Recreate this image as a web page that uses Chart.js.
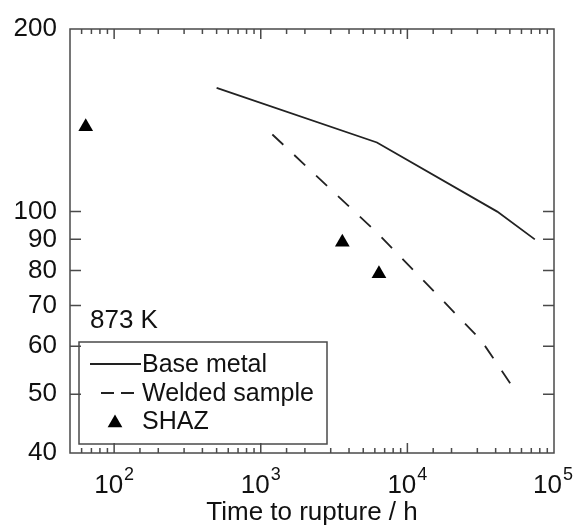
<!DOCTYPE html>
<html lang="en">
<head>
<meta charset="UTF-8">
<title>Time to rupture at 873 K</title>
<script src="https://cdn.jsdelivr.net/npm/chart.js@4"></script>
<style>
  body { margin: 0; background: #fff; }
  canvas { display: block; }
</style>
</head>
<body>
<canvas id="ruptureChart" width="575" height="526"></canvas>
<script>
// data (time in h, stress in MPa)
const seriesNames = ['Base metal', 'Welded sample', 'SHAZ'];
const baseTimes = [500, 6200, 41000, 74000];
const baseStress = [160, 130, 100, 90];
const weldTimes = [1200, 6300, 31800, 52000];
const weldStress = [134, 92, 61.4, 51.5];
const shazTimes = [64, 3600, 6400];
const shazStress = [138, 89, 79];
const yTickValues = [40, 50, 60, 70, 80, 90, 100, 200];
const tempLabel = '873 K';
const xTitle = 'Time to rupture / h';

const fontFamily = '"Liberation Sans", Arial, sans-serif';
const inkColor = '#111';
const lineColor = '#222';
const frameColor = '#4a4a4a';

Chart.defaults.font.family = fontFamily;
Chart.defaults.color = inkColor;

const toPoints = (xs, ys) => xs.map((x, i) => ({ x: x, y: ys[i] }));
const isDecade = v => Math.abs(Math.log10(v) - Math.round(Math.log10(v))) < 1e-9;

// frame, inward ticks, x labels with exponent, legend box and temperature note
const framePlugin = {
    id: 'frame',
    afterDraw(chart) {
        const { ctx, chartArea: a, scales: { x, y } } = chart;
        ctx.save();
        ctx.strokeStyle = frameColor;
        ctx.lineWidth = 1.5;
        ctx.strokeRect(a.left, a.top, a.right - a.left, a.bottom - a.top);

        ctx.beginPath();
        x.ticks.forEach(t => {
            const px = x.getPixelForValue(t.value);
            if (px < a.left + 1 || px > a.right - 1) return;
            const len = isDecade(t.value) ? 10 : 5;
            ctx.moveTo(px, a.bottom); ctx.lineTo(px, a.bottom - len);
            ctx.moveTo(px, a.top); ctx.lineTo(px, a.top + len);
        });
        y.ticks.forEach(t => {
            const py = y.getPixelForValue(t.value);
            if (py < a.top + 1 || py > a.bottom - 1) return;
            ctx.moveTo(a.left, py); ctx.lineTo(a.left + 11, py);
            ctx.moveTo(a.right, py); ctx.lineTo(a.right - 11, py);
        });
        ctx.stroke();

        // x tick labels 10^n
        ctx.fillStyle = inkColor;
        ctx.textAlign = 'left';
        ctx.textBaseline = 'alphabetic';
        x.ticks.filter(t => isDecade(t.value)).forEach(t => {
            const px = x.getPixelForValue(t.value);
            const exp = String(Math.round(Math.log10(t.value)));
            ctx.font = '26px ' + fontFamily;
            const w1 = ctx.measureText('10').width;
            ctx.font = '18px ' + fontFamily;
            const w2 = ctx.measureText(exp).width;
            const total = w1 + 1 + w2;
            const left = Math.min(px - total / 2, chart.width - 2 - total);
            ctx.font = '26px ' + fontFamily;
            ctx.fillText('10', left, a.bottom + 40);
            ctx.font = '18px ' + fontFamily;
            ctx.fillText(exp, left + w1 + 1, a.bottom + 27);
        });

        // temperature note
        ctx.font = '26px ' + fontFamily;
        ctx.fillText(tempLabel, 90, 328);

        // legend
        const box = { left: 79, top: 342, right: 327, bottom: 444 };
        ctx.strokeStyle = frameColor;
        ctx.lineWidth = 1.5;
        ctx.strokeRect(box.left, box.top, box.right - box.left, box.bottom - box.top);
        const rows = [364, 393, 421];
        ctx.font = '25px ' + fontFamily;
        ctx.textBaseline = 'middle';
        chart.data.datasets.forEach((ds, i) => {
            const ry = rows[i];
            if (ds.showLine === false) {
                const r = 8.5, cx = 115, cy = ry + 2;
                ctx.fillStyle = '#000';
                ctx.beginPath();
                ctx.moveTo(cx, cy - r);
                ctx.lineTo(cx + r * Math.sin(Math.PI / 3), cy + r / 2);
                ctx.lineTo(cx - r * Math.sin(Math.PI / 3), cy + r / 2);
                ctx.closePath();
                ctx.fill();
            } else {
                ctx.strokeStyle = ds.borderColor;
                ctx.lineWidth = ds.borderWidth;
                ctx.setLineDash(ds.borderDash ? [13, 7] : []);
                ctx.beginPath();
                ctx.moveTo(ds.borderDash ? 101 : 90, ry);
                ctx.lineTo(ds.borderDash ? 134 : 141, ry);
                ctx.stroke();
                ctx.setLineDash([]);
            }
            ctx.fillStyle = inkColor;
            ctx.fillText(ds.label, 142, ry + 1);
        });
        ctx.restore();
    }
};

new Chart(document.getElementById('ruptureChart'), {
    type: 'scatter',
    data: {
        datasets: [
            {
                label: seriesNames[0],
                data: toPoints(baseTimes, baseStress),
                showLine: true,
                borderColor: lineColor,
                borderWidth: 1.8,
                pointRadius: 0,
                tension: 0
            },
            {
                label: seriesNames[1],
                data: toPoints(weldTimes, weldStress),
                showLine: true,
                borderColor: lineColor,
                borderWidth: 1.8,
                borderDash: [15, 15],
                pointRadius: 0,
                tension: 0
            },
            {
                label: seriesNames[2],
                data: toPoints(shazTimes, shazStress),
                showLine: false,
                pointStyle: 'triangle',
                pointRadius: 8.5,
                backgroundColor: '#000',
                borderColor: '#000',
                borderWidth: 0
            }
        ]
    },
    options: {
        responsive: false,
        animation: false,
        layout: { padding: { top: 29, right: 21, left: 0, bottom: 0 } },
        scales: {
            x: {
                type: 'logarithmic',
                min: 50,
                max: 100000,
                grid: { display: false, drawTicks: false },
                border: { display: false },
                ticks: { display: false, autoSkip: false },
                title: {
                    display: true,
                    text: xTitle,
                    color: inkColor,
                    font: { size: 26, lineHeight: 1 },
                    padding: 0
                },
                afterFit(scale) {
                    scale.height = 73;
                    scale.paddingLeft = 0;
                    scale.paddingRight = 0;
                }
            },
            y: {
                type: 'logarithmic',
                min: 40,
                max: 200,
                grid: { display: false, drawTicks: false },
                border: { display: false },
                afterBuildTicks(scale) {
                    scale.ticks = yTickValues.map(v => ({ value: v }));
                },
                ticks: {
                    autoSkip: false,
                    padding: 13,
                    color: inkColor,
                    font: { size: 26 },
                    callback: v => String(v)
                },
                afterFit(scale) {
                    scale.width = 70;
                }
            }
        },
        plugins: {
            legend: { display: false },
            tooltip: { enabled: false }
        }
    },
    plugins: [framePlugin]
});
</script>
</body>
</html>
